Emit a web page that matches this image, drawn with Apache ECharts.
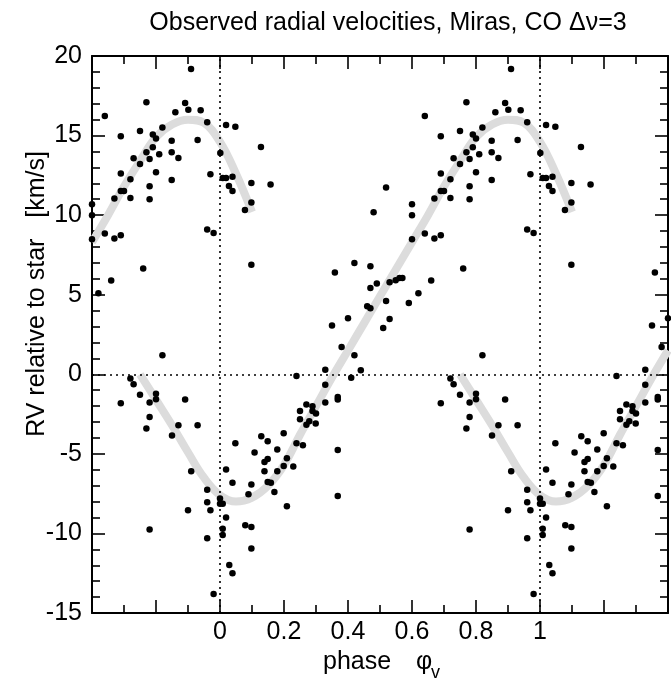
<!DOCTYPE html>
<html><head><meta charset="utf-8">
<script src="https://cdn.jsdelivr.net/npm/echarts@6/dist/echarts.min.js"></script>
<style>html,body{margin:0;padding:0;background:#fff}#c{width:671px;height:682px}</style>
</head><body><div id="c"></div>
<script>
// ---- data (phase in [0,1); each point is also drawn at phase-1 and phase+1 when visible) ----
const obsPhase = [
 0.000,0.000,0.0085,0.019,0.019,0.0085,0.0085,0.039,0.048,0.029,
 0.039,0.079,0.098,0.098,0.098,0.089,0.108,0.129,0.149,0.139,
 0.149,0.139,0.149,0.159,0.170,0.179,0.179,0.199,0.199,0.209,
 0.229,0.239,0.259,0.209,0.270,0.279,0.299,0.368,0.368,
 0.239,0.329,0.329,0.368,0.368,0.329,0.270,0.289,0.250,0.289,
 0.300,0.250,0.410,0.440,0.420,0.380,0.350,0.400,0.359,0.420,
 0.470,0.470,0.490,0.530,0.549,0.561,0.570,0.460,0.470,0.519,
 0.530,0.510,0.590,0.620,0.660,0.600,0.640,0.670,0.690,0.690,
 0.720,0.730,0.519,0.480,0.600,0.600,
 0.640,0.690,0.730,0.750,0.750,0.690,0.720,0.690,0.700,0.670,
 0.720,0.9095,0.770,0.891,0.901,0.9395,0.8605,0.960,0.820,0.790,
 0.800,0.849,0.930,0.790,0.770,0.849,0.810,0.780,0.870,0.800,
 0.970,0.849,0.780,0.780,0.960,0.980,
 0.019,0.048,0.001,0.128,0.0085,0.019,0.039,0.028,0.039,0.098,
 0.158,0.098,0.078,0.098,
 0.760,0.820,0.750,0.780,0.800,0.800,0.891,0.780,0.870,0.930,
 0.770,0.850,0.910,0.960,0.960,0.970,0.900,0.780,0.960,0.980
];
const obsVelocity = [
 -7.8,-8.13,-8.13,-5.99,-9.0,-9.7,-10.1,-6.81,-4.34,-11.98,
 -12.5,-9.49,-9.59,-10.95,-6.93,-7.54,-4.92,-3.9,-4.21,-5.51,
 -5.32,-6.1,-6.77,-6.81,-7.39,-4.73,-6.1,-3.71,-5.76,-5.28,
 -5.8,-4.34,-4.46,-8.29,-3.17,-2.95,-3.1,-4.75,-7.65,
 -0.1,0.29,-0.65,-1.43,-1.59,-1.78,-1.9,-2.01,-2.3,-2.3,
 -2.47,-2.83,-0.21,0.25,1.19,1.72,3.06,3.52,6.39,6.99,
 6.79,5.42,5.7,5.78,5.91,6.05,6.05,4.27,4.15,4.61,
 3.48,2.91,4.48,5.09,5.89,8.48,8.84,8.53,8.73,-1.82,
 -0.27,-0.63,11.73,10.18,10.68,9.99,
 16.23,14.96,13.57,13.22,15.29,12.61,12.25,11.52,11.52,11.04,
 11.08,19.18,17.09,17.05,16.63,16.59,16.46,15.84,15.5,15.06,
 14.81,14.68,14.72,14.26,13.95,13.95,13.82,13.53,13.59,12.69,
 12.57,12.21,11.81,11.0,9.09,8.88,
 15.67,15.56,13.91,14.28,12.33,12.33,12.42,11.83,11.52,12.02,
 11.92,10.79,10.33,6.89,
 6.64,1.19,-1.28,-1.78,-1.22,-1.57,-1.59,-2.68,-3.2,-3.2,
 -3.41,-3.85,-6.1,-7.25,-8.04,-8.55,-8.55,-9.76,-10.3,-13.8
];
// fitted curve (drawn over phase -0.25..1.1, repeated at +/-1)
const curvePhase = [-0.25,-0.2,-0.15,-0.1,-0.05,0,0.05,0.1,0.15,0.2,0.25,0.3,0.35,0.4,
  0.45,0.5,0.55,0.6,0.65,0.7,0.75,0.8,0.85,0.9,0.95,1.0,1.05,1.1];
const curveVelocity = [0,-1.6,-3.2,-4.9,-6.5,-7.6,-8.0,-7.75,-7.0,-5.7,-3.8,-2.0,-0.2,1.5,
  3.2,4.9,6.6,8.3,10.0,11.8,13.4,14.9,15.7,16.0,15.8,14.6,12.6,10.2];
const cycleShifts = [-1, 0, 1];
const xLabelled = [0, 0.2, 0.4, 0.6, 0.8, 1];
const xTickLabels = ['0', '0.2', '0.4', '0.6', '0.8', '1'];
const yTickLabels = ['-15', '-10', '-5', '0', '5', '10', '15', '20'];
const titleText = 'Observed radial velocities, Miras, CO \u0394\u03bd=3';
const yName = 'RV relative to star   [km/s]';

// ---- build ----
const XMIN = -0.4, XMAX = 1.4, EPS = 1e-6;
const inRange = x => x >= XMIN - EPS && x <= XMAX + EPS;
const scatterData = [];
obsPhase.forEach((p, i) => {
  cycleShifts.forEach(s => { const x = p + s; if (inRange(x)) scatterData.push([x, obsVelocity[i]]); });
});
const FONT = '"Liberation Sans", Arial, Helvetica, sans-serif';
const curveSeries = cycleShifts.map(s => ({
  type: 'line', xAxisIndex: 0, yAxisIndex: 0,
  data: curvePhase.map((p, i) => [p + s, curveVelocity[i]]).filter(d => inRange(d[0])),
  smooth: 0.4, symbol: 'none', silent: true, clip: true,
  lineStyle: { color: '#dcdcdc', width: 8, cap: 'butt' }, z: 2
}));

const tickCommon = {
  axisLine: { show: true, onZero: false, lineStyle: { color: '#000', width: 2 } },
  axisTick: { show: true, inside: true, length: 13, lineStyle: { color: '#000', width: 1.6 } },
  minorTick: { show: true, length: 8, lineStyle: { color: '#000', width: 1.6 } },
  splitLine: { show: false }, minorSplitLine: { show: false }
};
const xBase = Object.assign({ type: 'value', min: XMIN, max: XMAX, interval: 0.2 }, JSON.parse(JSON.stringify(tickCommon)));
xBase.minorTick.splitNumber = 2;
const yBase = Object.assign({ type: 'value', min: -15, max: 20, interval: 5 }, JSON.parse(JSON.stringify(tickCommon)));
yBase.minorTick.splitNumber = 5;

const chart = echarts.init(document.getElementById('c'), null, { renderer: 'canvas' });
chart.setOption({
  animation: false,
  backgroundColor: '#fff',
  grid: { left: 92, top: 56, width: 578, height: 557, containLabel: false },
  xAxis: [
    Object.assign({}, xBase, { position: 'bottom',
      axisLabel: { show: true, margin: 7, color: '#000', fontSize: 25, fontFamily: FONT,
        formatter: v => { const k = xLabelled.findIndex(t => Math.abs(t - v) < 1e-6); return k >= 0 ? xTickLabels[k] : ''; } } }),
    Object.assign({}, xBase, { position: 'top', axisLabel: { show: false } })
  ],
  yAxis: [
    Object.assign({}, yBase, { position: 'left',
      axisLabel: { show: true, margin: 10, color: '#000', fontSize: 25, fontFamily: FONT,
        formatter: v => yTickLabels[Math.round((v + 15) / 5)] } }),
    Object.assign({}, yBase, { position: 'right', axisLabel: { show: false } })
  ],
  graphic: [
    { type: 'text', x: 388, y: 23, style: { text: titleText, font: '25px ' + FONT, fill: '#000', align: 'center', verticalAlign: 'middle' } },
    { type: 'text', x: 37, y: 294, rotation: Math.PI / 2, style: { text: yName, font: '25px ' + FONT, fill: '#000', align: 'center', verticalAlign: 'middle' } },
    { type: 'text', x: 323, y: 662, style: { text: 'phase', font: '25px ' + FONT, fill: '#000', align: 'left', verticalAlign: 'middle' } },
    { type: 'text', x: 416, y: 662, style: { text: '\u03c6', font: '25px ' + FONT, fill: '#000', align: 'left', verticalAlign: 'middle' } },
    { type: 'text', x: 431, y: 673, style: { text: 'v', font: '18px ' + FONT, fill: '#000', align: 'left', verticalAlign: 'middle' } }
  ],
  series: curveSeries.concat([{
    type: 'scatter', xAxisIndex: 0, yAxisIndex: 0, data: scatterData,
    symbol: 'circle', symbolSize: 6.5, itemStyle: { color: '#000', opacity: 1 }, z: 5, silent: true,
    markLine: {
      silent: true, symbol: 'none', label: { show: false }, animation: false,
      lineStyle: { color: '#000', width: 1.6, type: [2, 4] },
      data: [{ xAxis: 0 }, { xAxis: 1 }, { yAxis: 0 }]
    }
  }])
});
</script></body></html>
